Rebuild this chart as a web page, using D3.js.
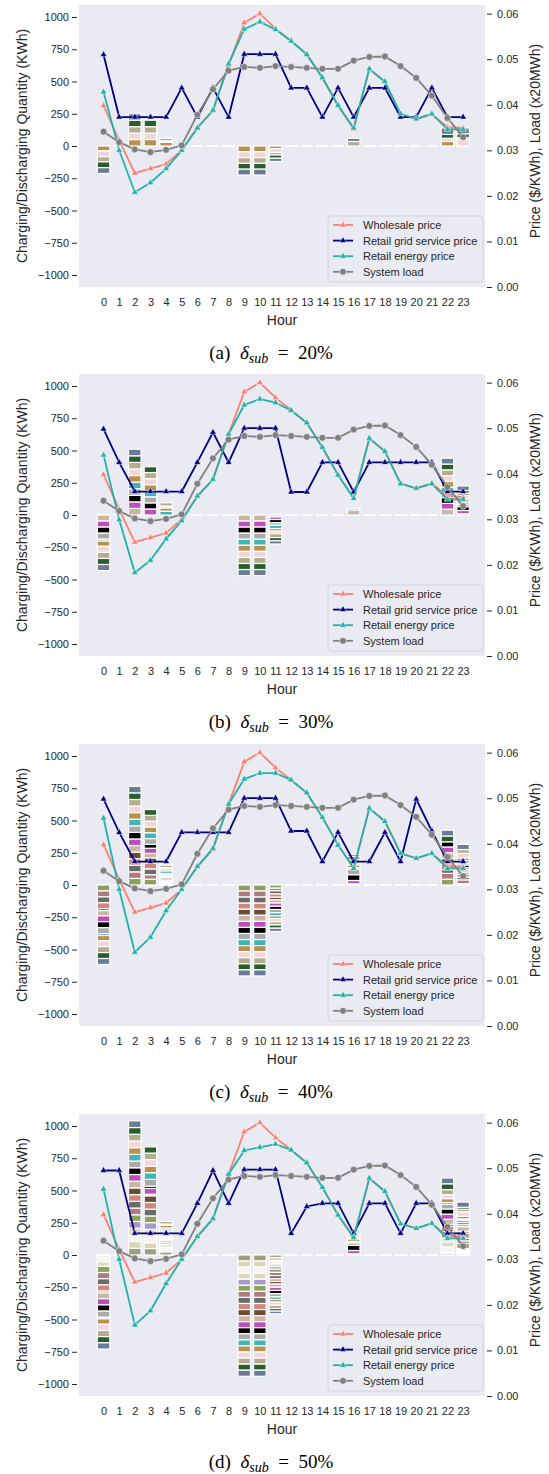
<!DOCTYPE html>
<html>
<head>
<meta charset="utf-8">
<script src="https://cdnjs.cloudflare.com/ajax/libs/d3/7.8.5/d3.min.js"></script>
<style>
  body { margin: 0; background: #fff; font-family: "Liberation Sans", Arial, sans-serif; }
  svg { display: block; }
</style>
</head>
<body>
<div id="chart"></div>
<script>
// ---------------- data ----------------
var hours = d3.range(24);
var leftTicks = [-1000, -750, -500, -250, 0, 250, 500, 750, 1000];
var rightTicks = [0, 0.01, 0.02, 0.03, 0.04, 0.05, 0.06];

// shared lines (right axis)
var wholesale = [0.0398, 0.0322, 0.0250, 0.0260, 0.0270, 0.0300, 0.0350, 0.0388, 0.0487, 0.0580, 0.0600, 0.0567,
                 0.0540, 0.0512, 0.0458, 0.0398, 0.0347, 0.0478, 0.0450, 0.0379, 0.0368, 0.0379, 0.0351, 0.0349];
var systemLoad = [0.0341, 0.0318, 0.0302, 0.0296, 0.0301, 0.0311, 0.0378, 0.0434, 0.0475, 0.0483, 0.0481, 0.0485,
                  0.0483, 0.0481, 0.0479, 0.0479, 0.0497, 0.0505, 0.0506, 0.0485, 0.0459, 0.0420, 0.0371, 0.0329];

// retail grid service price per panel
var gridA = [0.0510, 0.0373, 0.0373, 0.0373, 0.0373, 0.0437, 0.0373, 0.0437, 0.0373, 0.0511, 0.0511, 0.0511,
             0.0437, 0.0437, 0.0373, 0.0437, 0.0373, 0.0437, 0.0437, 0.0373, 0.0373, 0.0437, 0.0373, 0.0373];
var gridB = [0.0498, 0.0425, 0.0361, 0.0361, 0.0361, 0.0361, 0.0425, 0.0491, 0.0425, 0.0500, 0.0500, 0.0500,
             0.0360, 0.0360, 0.0425, 0.0425, 0.0360, 0.0425, 0.0425, 0.0425, 0.0425, 0.0425, 0.0361, 0.0361];
var gridC = [0.0498, 0.0425, 0.0361, 0.0361, 0.0361, 0.0425, 0.0425, 0.0425, 0.0425, 0.0500, 0.0500, 0.0500,
             0.0428, 0.0428, 0.0361, 0.0425, 0.0361, 0.0361, 0.0425, 0.0361, 0.0498, 0.0428, 0.0361, 0.0361];
var gridD = [0.0495, 0.0495, 0.0357, 0.0357, 0.0357, 0.0357, 0.0423, 0.0495, 0.0423, 0.0497, 0.0497, 0.0497,
             0.0357, 0.0416, 0.0423, 0.0423, 0.0357, 0.0423, 0.0423, 0.0357, 0.0423, 0.0423, 0.0357, 0.0357];

// retail energy price per panel
var energyA = [0.0428, 0.0300, 0.0208, 0.0229, 0.0260, 0.0300, 0.0349, 0.0388, 0.0490, 0.0566, 0.0582, 0.0565,
               0.0540, 0.0510, 0.0460, 0.0399, 0.0349, 0.0479, 0.0451, 0.0380, 0.0369, 0.0380, 0.0346, 0.0346];
var energyB = [0.0441, 0.0299, 0.0183, 0.0210, 0.0257, 0.0297, 0.0351, 0.0388, 0.0487, 0.0551, 0.0564, 0.0556,
               0.0539, 0.0512, 0.0458, 0.0397, 0.0346, 0.0478, 0.0449, 0.0378, 0.0368, 0.0378, 0.0344, 0.0344];
var energyC = [0.0456, 0.0300, 0.0162, 0.0195, 0.0253, 0.0300, 0.0350, 0.0390, 0.0487, 0.0542, 0.0555, 0.0555,
               0.0540, 0.0512, 0.0458, 0.0397, 0.0346, 0.0478, 0.0449, 0.0379, 0.0368, 0.0379, 0.0346, 0.0346];
var energyD = [0.0454, 0.0300, 0.0156, 0.0187, 0.0247, 0.0300, 0.0350, 0.0390, 0.0487, 0.0539, 0.0546, 0.0553,
               0.0540, 0.0512, 0.0458, 0.0397, 0.0348, 0.0478, 0.0449, 0.0378, 0.0368, 0.0379, 0.0346, 0.0346];

// stacked charging (+) / discharging (-) quantities, one column per user
var barHours = [0, 2, 3, 4, 9, 10, 11, 16, 22, 23];

var usersA = [16, 17, 18, 19, 20];
var qtyA = [
  [-38, -45, -40, -45, -45],
  [50, 50, 50, 50, 50],
  [50, 50, 50, 50, 0],
  [28, 12, 20, 0, 0],
  [-45, -45, -45, -45, -45],
  [-45, -45, -45, -45, -45],
  [-20, -30, -20, -25, -25],
  [0, 0, 35, 0, 25],
  [35, 25, 0, 30, 50],
  [0, 50, 15, 30, 45]
];

var usersB = [11, 12, 13, 14, 15, 16, 17, 18, 19, 20];
var qtyB = [
  [-47, -47, -47, -47, -15, -40, -47, -47, -47, -47],
  [51, 51, 51, 51, 51, 51, 51, 51, 51, 51],
  [0, 47, 47, 47, 47, 47, 47, 47, 45, 0],
  [0, 0, 0, 0, 30, 25, 15, 25, 0, 0],
  [-47, -47, -47, -47, -47, -47, -47, -47, -47, -47],
  [-47, -47, -47, -47, -47, -47, -47, -47, -47, -47],
  [-15, -20, -25, -20, -25, -20, -20, -30, -25, -25],
  [40, 0, 0, 0, 0, 0, 0, 0, 0, 12],
  [45, 45, 45, 40, 40, 45, 45, 45, 45, 45],
  [10, 25, 30, 20, 15, 20, 30, 20, 20, 35]
];

var usersC = [6, 7, 8, 9, 10, 11, 12, 13, 14, 15, 16, 17, 18, 19, 20];
var qtyC = [
  [-46, -46, -46, -46, -15, -40, -46, -46, -46, -15, -40, -46, -46, -46, -46],
  [51, 51, 51, 51, 51, 51, 51, 51, 51, 51, 51, 51, 51, 51, 51],
  [45, 35, 45, 45, 40, 35, 40, 30, 45, 45, 45, 45, 45, 45, 0],
  [10, 10, 10, 10, 15, 10, 5, 10, 10, 20, 15, 10, 20, 10, 0],
  [-47, -47, -47, -47, -47, -47, -47, -47, -47, -47, -47, -47, -47, -47, -47],
  [-47, -47, -47, -47, -47, -47, -47, -47, -47, -47, -47, -47, -47, -47, -47],
  [-25, -20, -25, -25, -20, -25, -25, -25, -25, -25, -20, -25, -25, -25, -25],
  [0, 0, 0, 0, 0, 10, 25, 45, 45, 10, 20, 15, 30, 20, 15],
  [45, 45, 30, 45, 40, 45, 45, 40, 0, 0, 0, 0, 0, 45, 45],
  [10, 30, 20, 25, 15, 20, 15, 20, 15, 20, 20, 35, 30, 0, 40]
];

var usersD = d3.range(1, 21);
var qtyD = [
  [-8, -15, -30, -35, 0, -48, -48, -48, -48, -14, -45, -48, -48, -48, -12, -42, -48, -48, -48, -48],
  [52, 52, 52, 52, 52, 52, 52, 52, 52, 52, 52, 52, 52, 52, 52, 52, 52, 52, 52, 52],
  [50, 45, 52, 52, 52, 52, 0, 52, 52, 52, 12, 45, 18, 52, 52, 50, 52, 50, 48, 0],
  [25, 15, 20, 20, 15, 15, 10, 10, 10, 10, 10, 10, 10, 15, 15, 20, 10, 20, 0, 0],
  [-47, -47, -47, -47, -47, -47, -47, -47, -47, -47, -47, -47, -47, -47, -47, -47, -47, -47, -47, -47],
  [-47, -47, -47, -47, -47, -47, -47, -47, -47, -47, -47, -47, -47, -47, -47, -47, -47, -47, -47, -47],
  [-20, -25, -25, -20, -20, -25, -25, -25, -20, -20, -25, -25, -25, -25, -20, -20, -25, -25, -20, -20],
  [0, 0, 0, 0, 0, 0, 0, 0, 0, 0, 10, 25, 40, 20, 10, 20, 15, 15, 0, 10],
  [12, 10, 40, 40, 15, 15, 30, 20, 40, 15, 40, 40, 40, 35, 15, 30, 30, 40, 45, 45],
  [10, 10, 10, 10, 10, 40, 20, 20, 40, 15, 35, 15, 15, 20, 10, 20, 35, 20, 15, 40]
];

var userColors = ['#a09e80', '#d9d6b3', '#f5f3f3', '#dddbbf', '#a597c6', '#8da15f', '#b07a80', '#6b6b6b',
                  '#d0877a', '#6b4b38', '#c9b7a3', '#bd4fbd', '#000000', '#aaaaaa', '#3fb5b5', '#b98f4e',
                  '#f2d5d9', '#b3ac8f', '#295d2b', '#6b7a96'];

var panels = [
  {top: 5,    tag: '(a)', pct: '20%', users: usersA, qty: qtyA, grid: gridA, energy: energyA},
  {top: 374,  tag: '(b)', pct: '30%', users: usersB, qty: qtyB, grid: gridB, energy: energyB},
  {top: 744,  tag: '(c)', pct: '40%', users: usersC, qty: qtyC, grid: gridC, energy: energyC},
  {top: 1114, tag: '(d)', pct: '50%', users: usersD, qty: qtyD, grid: gridD, energy: energyD}
];

// ---------------- layout ----------------
var W = 549, H = 1474;
var plotL = 79, plotR = 485, plotH = 282;
var txt = '#262626';

var svg = d3.select('#chart').append('svg')
    .attr('width', W)
    .attr('height', H);

var x = d3.scaleLinear().domain([-1.57, 24.4]).range([plotL, plotR]);
var barW = x(0.8) - x(0);

panels.forEach(function(p) {
    var g = svg.append('g').attr('transform', 'translate(0,' + p.top + ')');

    var yL = d3.scaleLinear().domain([-1093, 1093]).range([plotH, 0]);
    var yR = d3.scaleLinear().domain([0, 0.0619]).range([plotH, 0]);

    g.append('rect')
        .attr('x', plotL).attr('y', 0)
        .attr('width', plotR - plotL).attr('height', plotH)
        .attr('fill', '#eaeaf2');

    // stacked bars
    var keys = p.users.map(function(u) { return 'u' + u; });
    var table = hours.map(function(h) {
        var row = {hour: h};
        keys.forEach(function(k) { row[k] = 0; });
        var i = barHours.indexOf(h);
        if (i >= 0) {
            p.qty[i].forEach(function(v, j) { row[keys[j]] = v; });
        }
        return row;
    });
    var series = d3.stack().keys(keys).offset(d3.stackOffsetDiverging)(table);

    // zero-height bars show as short white dashes
    g.append('g').selectAll('line')
        .data(hours)
        .enter().append('line')
        .attr('x1', function(h) { return x(h) - barW / 2; })
        .attr('x2', function(h) { return x(h) + barW / 2; })
        .attr('y1', yL(0)).attr('y2', yL(0))
        .attr('stroke', '#fff')
        .attr('stroke-width', 1.8);

    series.forEach(function(s, si) {
        var color = userColors[p.users[si] - 1];
        g.append('g').selectAll('rect')
            .data(s.filter(function(d) { return d[1] !== d[0]; }))
            .enter().append('rect')
            .attr('x', function(d) { return x(d.data.hour) - barW / 2; })
            .attr('y', function(d) { return yL(Math.max(d[0], d[1])); })
            .attr('width', barW)
            .attr('height', function(d) { return Math.abs(yL(d[0]) - yL(d[1])); })
            .attr('fill', color)
            .attr('stroke', '#fff')
            .attr('stroke-width', 1.2);
    });

    // lines on the price axis
    var lineSeries = [
        {name: 'Wholesale price', values: wholesale, color: '#fa8072', marker: 'tri'},
        {name: 'Retail grid service price', values: p.grid, color: '#000080', marker: 'tri'},
        {name: 'Retail energy price', values: p.energy, color: '#20b2aa', marker: 'tri'},
        {name: 'System load', values: systemLoad, color: '#808080', marker: 'dot'}
    ];
    var line = d3.line()
        .x(function(v, i) { return x(i); })
        .y(function(v) { return yR(v); });
    var tri = d3.symbol().type(d3.symbolTriangle).size(20)();

    function drawMarker(sel, s) {
        if (s.marker === 'tri') {
            sel.append('path').attr('d', tri);
        } else {
            sel.append('circle').attr('r', 3.4);
        }
        sel.attr('fill', s.color).attr('stroke', '#fff').attr('stroke-width', 0.5);
    }

    lineSeries.forEach(function(s) {
        g.append('path')
            .datum(s.values)
            .attr('d', line)
            .attr('fill', 'none')
            .attr('stroke', s.color)
            .attr('stroke-width', 1.8);
        g.append('g').selectAll('g')
            .data(s.values)
            .enter().append('g')
            .attr('transform', function(v, i) { return 'translate(' + x(i) + ',' + yR(v) + ')'; })
            .each(function() { drawMarker(d3.select(this), s); });
    });

    // legend
    var lg = g.append('g').attr('transform', 'translate(328,211)');
    lg.append('rect')
        .attr('width', 155).attr('height', 66)
        .attr('rx', 3)
        .attr('fill', '#eaeaf2')
        .attr('stroke', '#d2d2da')
        .attr('stroke-width', 1);
    lineSeries.forEach(function(s, i) {
        var row = lg.append('g').attr('transform', 'translate(0,' + (9 + i * 15.6) + ')');
        row.append('line')
            .attr('x1', 5).attr('x2', 25)
            .attr('stroke', s.color).attr('stroke-width', 1.8);
        var m = row.append('g').attr('transform', 'translate(15,0)');
        drawMarker(m, s);
        row.append('text')
            .attr('x', 35).attr('y', 4)
            .attr('font-size', 11)
            .attr('fill', txt)
            .text(s.name);
    });

    // axes
    var axL = g.append('g')
        .attr('transform', 'translate(77,0)')
        .call(d3.axisLeft(yL).tickValues(leftTicks).tickFormat(d3.format('d')).tickSize(5).tickPadding(3));
    var axR = g.append('g')
        .attr('transform', 'translate(487,0)')
        .call(d3.axisRight(yR).tickValues(rightTicks).tickFormat(d3.format('.2f')).tickSize(5).tickPadding(5));
    var axX = g.append('g')
        .attr('transform', 'translate(0,' + plotH + ')')
        .call(d3.axisBottom(x).tickValues(hours).tickSize(0).tickPadding(11));
    [axL, axR, axX].forEach(function(ax) {
        ax.select('.domain').remove();
        ax.attr('font-family', null).attr('font-size', null);
        ax.selectAll('line').attr('stroke', txt);
        ax.selectAll('text').attr('font-size', 11).attr('fill', txt);
    });

    // axis titles
    g.append('text')
        .attr('transform', 'translate(22,' + (plotH / 2) + ') rotate(-90)')
        .attr('text-anchor', 'middle')
        .attr('dy', '0.35em')
        .attr('font-size', 14)
        .attr('fill', txt)
        .text('Charging/Discharging Quantity (KWh)');
    g.append('text')
        .attr('transform', 'translate(535,' + (plotH / 2 - 5) + ') rotate(-90)')
        .attr('text-anchor', 'middle')
        .attr('dy', '0.35em')
        .attr('font-size', 14)
        .attr('fill', txt)
        .text('Price ($/KWh), Load (x20MWh)');
    g.append('text')
        .attr('x', (plotL + plotR) / 2)
        .attr('y', 320)
        .attr('text-anchor', 'middle')
        .attr('font-size', 14)
        .attr('fill', txt)
        .text('Hour');

    // caption
    var cap = g.append('text')
        .attr('x', 271).attr('y', 354)
        .attr('text-anchor', 'middle')
        .attr('font-family', '"Liberation Serif", "Times New Roman", serif')
        .attr('font-size', 19)
        .attr('fill', '#000');
    cap.append('tspan').text(p.tag + '\u2002');
    cap.append('tspan').attr('font-style', 'italic').text('\u03b4');
    cap.append('tspan').attr('font-style', 'italic').attr('font-size', 14).attr('dy', 4).text('sub');
    cap.append('tspan').attr('dy', -4).text('\u2002=\u2002' + p.pct);
});
</script>
</body>
</html>
